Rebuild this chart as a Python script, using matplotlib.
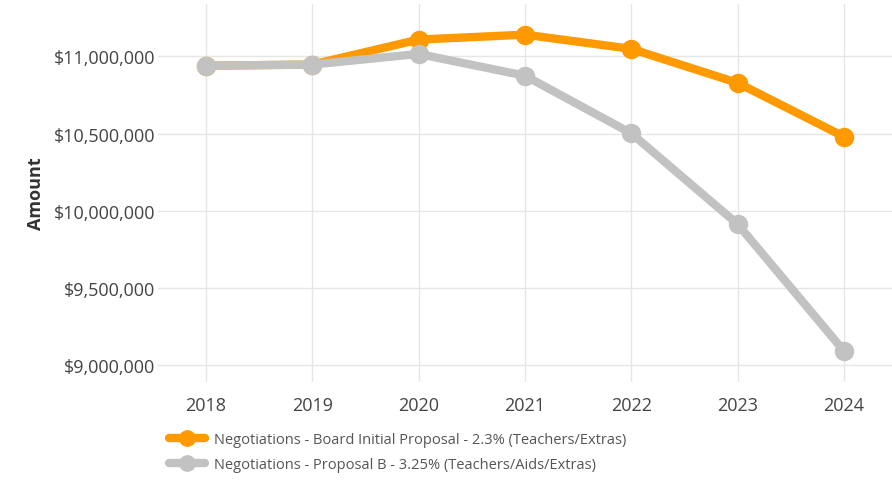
import matplotlib
matplotlib.use("Agg")
import matplotlib.pyplot as plt
from matplotlib.ticker import FuncFormatter

# Values
years = [2018, 2019, 2020, 2021, 2022, 2023, 2024]
board_initial = [10940000, 10947000, 11109000, 11141000, 11049000, 10828000, 10479000]
proposal_b = [10940000, 10947000, 11016000, 10875000, 10501000, 9912000, 9089000]

labels = [
    "Negotiations - Board Initial Proposal - 2.3% (Teachers/Extras)",
    "Negotiations - Proposal B - 3.25% (Teachers/Aids/Extras)",
]
colors = ["#FF9900", "#C2C2C2"]
yticks = [9000000, 9500000, 10000000, 10500000, 11000000]

plt.rcParams["font.family"] = ["Open Sans", "DejaVu Sans"]

fig = plt.figure(figsize=(8.92, 4.81), dpi=100)
ax = fig.add_axes([0.177, 0.204, 0.823, 0.786])

for vals, c, lab in zip([board_initial, proposal_b], colors, labels):
    ax.plot(years, vals, color=c, lw=6, marker="o", ms=13,
            solid_capstyle="round", label=lab, zorder=3)

ax.set_xlim(2017.55, 2024.45)
ax.set_ylim(8890000, 11341000)
ax.set_xticks(years)
ax.set_yticks(yticks)
ax.yaxis.set_major_formatter(FuncFormatter(lambda v, _: f"${v:,.0f}"))
ax.grid(True, color="#E6E6E6", lw=1)
ax.set_axisbelow(True)
for s in ax.spines.values():
    s.set_visible(False)
ax.tick_params(axis="both", length=0, labelsize=13, colors="#444444", pad=2)
ax.tick_params(axis="x", pad=10)
ax.set_ylabel("Amount", fontsize=13, fontweight="bold", color="#333333", labelpad=6)

fig.legend(loc="lower left", bbox_to_anchor=(0.18, 0.0), frameon=False,
           fontsize=10.5, handlelength=2.5, handletextpad=0.6, labelspacing=0.7,
           labelcolor="#555555", borderaxespad=0.15, markerscale=0.85)

fig.savefig("out.png", dpi=100)
